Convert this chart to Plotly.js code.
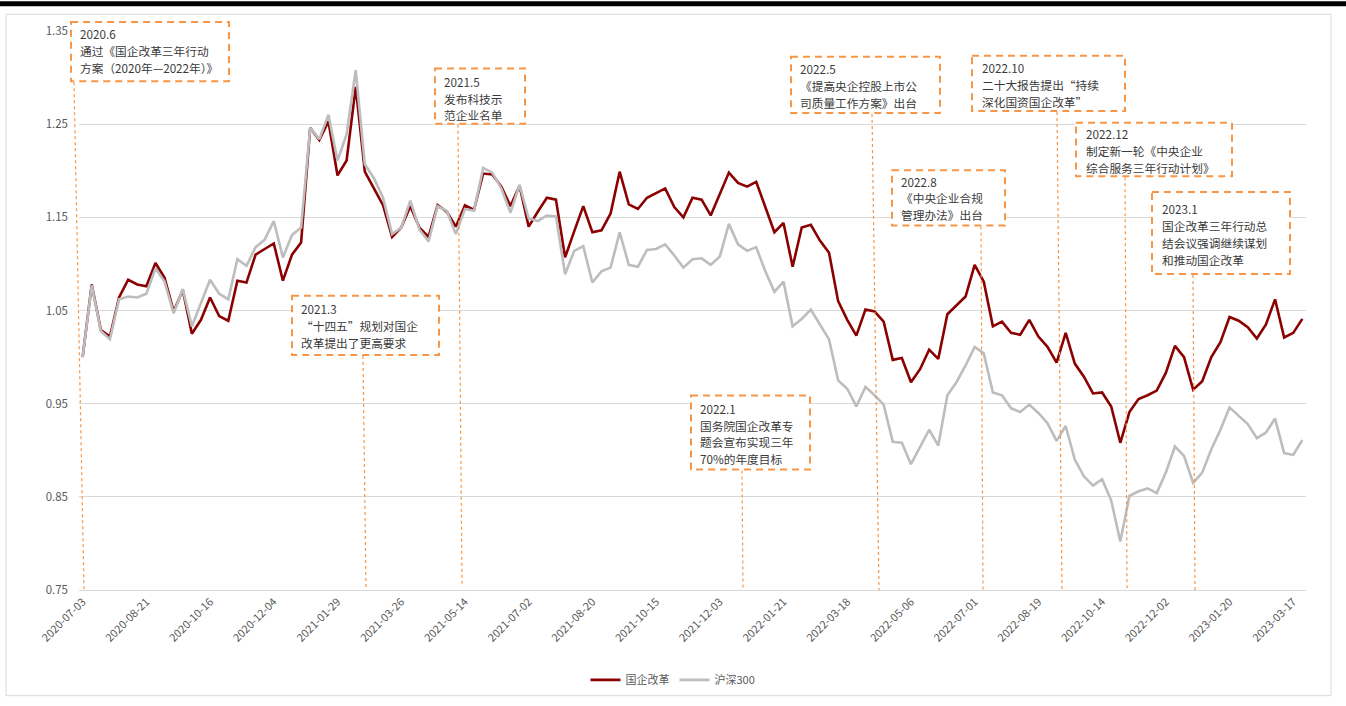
<!DOCTYPE html>
<html><head><meta charset="utf-8">
<script src="https://cdn.plot.ly/plotly-3.0.1.min.js"></script>
<style>html,body{margin:0;padding:0;background:#fff}#chart{width:1346px;height:706px}</style>
</head><body><div id="chart"></div>
<script>
// ---- data ----
const dates = [
'2020-07-03','2020-07-10','2020-07-17','2020-07-24','2020-07-31','2020-08-07','2020-08-14','2020-08-21','2020-08-28','2020-09-04',
'2020-09-11','2020-09-18','2020-09-25','2020-10-09','2020-10-16','2020-10-23','2020-10-30','2020-11-06','2020-11-13','2020-11-20',
'2020-11-27','2020-12-04','2020-12-11','2020-12-18','2020-12-25','2021-01-08','2021-01-15','2021-01-22','2021-01-29','2021-02-05',
'2021-02-19','2021-02-26','2021-03-05','2021-03-12','2021-03-19','2021-03-26','2021-04-02','2021-04-09','2021-04-16','2021-04-23',
'2021-04-30','2021-05-07','2021-05-14','2021-05-21','2021-05-28','2021-06-04','2021-06-11','2021-06-18','2021-06-25','2021-07-02',
'2021-07-09','2021-07-16','2021-07-23','2021-07-30','2021-08-06','2021-08-13','2021-08-20','2021-08-27','2021-09-03','2021-09-10',
'2021-09-17','2021-09-24','2021-10-08','2021-10-15','2021-10-22','2021-10-29','2021-11-05','2021-11-12','2021-11-19','2021-11-26',
'2021-12-03','2021-12-10','2021-12-17','2021-12-24','2021-12-31','2022-01-07','2022-01-14','2022-01-21','2022-01-28','2022-02-11',
'2022-02-18','2022-02-25','2022-03-04','2022-03-11','2022-03-18','2022-03-25','2022-04-01','2022-04-08','2022-04-15','2022-04-22',
'2022-04-29','2022-05-06','2022-05-13','2022-05-20','2022-05-27','2022-06-10','2022-06-17','2022-06-24','2022-07-01','2022-07-08',
'2022-07-15','2022-07-22','2022-07-29','2022-08-05','2022-08-12','2022-08-19','2022-08-26','2022-09-02','2022-09-09','2022-09-16',
'2022-09-23','2022-09-30','2022-10-14','2022-10-21','2022-10-28','2022-11-04','2022-11-11','2022-11-18','2022-11-25','2022-12-02',
'2022-12-09','2022-12-16','2022-12-23','2022-12-30','2023-01-06','2023-01-13','2023-01-20','2023-02-03','2023-02-10','2023-02-17',
'2023-02-24','2023-03-03','2023-03-10','2023-03-17','2023-03-24'];

const soeReform = [
1.000,1.078,1.029,1.022,1.064,1.083,1.078,1.076,1.101,1.085,
1.049,1.072,1.025,1.040,1.064,1.044,1.039,1.082,1.080,1.110,
1.116,1.122,1.082,1.110,1.123,1.246,1.233,1.253,1.195,1.211,
1.290,1.199,1.181,1.163,1.129,1.139,1.162,1.139,1.129,1.163,
1.156,1.140,1.163,1.158,1.197,1.196,1.183,1.162,1.184,1.140,
1.156,1.171,1.169,1.107,1.135,1.162,1.134,1.136,1.154,1.199,
1.164,1.159,1.171,1.176,1.181,1.161,1.150,1.171,1.169,1.152,
1.175,1.198,1.187,1.183,1.188,1.162,1.134,1.144,1.097,1.139,
1.142,1.125,1.112,1.060,1.040,1.023,1.051,1.049,1.038,0.997,
0.999,0.973,0.987,1.008,0.998,1.046,1.055,1.065,1.099,1.081,
1.033,1.038,1.026,1.024,1.040,1.022,1.011,0.994,1.026,0.993,
0.979,0.961,0.962,0.947,0.908,0.941,0.955,0.959,0.964,0.983,
1.012,1.000,0.965,0.974,1.000,1.016,1.043,1.039,1.032,1.020,
1.035,1.062,1.021,1.026,1.041];

const csi300 = [
1.000,1.077,1.028,1.019,1.062,1.065,1.064,1.068,1.095,1.081,
1.047,1.073,1.033,1.058,1.083,1.068,1.062,1.105,1.098,1.118,
1.126,1.146,1.107,1.131,1.139,1.246,1.234,1.260,1.211,1.239,
1.308,1.207,1.192,1.171,1.132,1.139,1.168,1.137,1.124,1.162,
1.157,1.132,1.159,1.157,1.203,1.198,1.181,1.155,1.185,1.149,
1.146,1.152,1.151,1.089,1.114,1.119,1.080,1.092,1.096,1.134,
1.099,1.097,1.115,1.116,1.121,1.109,1.096,1.105,1.106,1.099,
1.108,1.143,1.121,1.114,1.118,1.092,1.070,1.081,1.033,1.041,
1.051,1.035,1.019,0.975,0.966,0.947,0.968,0.959,0.949,0.909,
0.908,0.885,0.903,0.922,0.905,0.959,0.973,0.991,1.011,1.004,
0.962,0.959,0.945,0.941,0.949,0.940,0.929,0.910,0.926,0.890,
0.872,0.862,0.869,0.846,0.802,0.851,0.856,0.859,0.854,0.876,
0.904,0.894,0.865,0.876,0.901,0.922,0.946,0.937,0.928,0.913,
0.919,0.934,0.897,0.895,0.911];

const tickDates = ['2020-07-03','2020-08-21','2020-10-16','2020-12-04','2021-01-29','2021-03-26','2021-05-14',
'2021-07-02','2021-08-20','2021-10-15','2021-12-03','2022-01-21','2022-03-18','2022-05-06','2022-07-01',
'2022-08-19','2022-10-14','2022-12-02','2023-01-20','2023-03-17'];
const yTicks = [0.75,0.85,0.95,1.05,1.15,1.25,1.35];
const seriesNames = ['国企改革','沪深300'];

const eventTexts = [
  ['2020.6','通过《国企改革三年行动','方案（2020年—2022年）》'],
  ['2021.3','“十四五”规划对国企','改革提出了更高要求'],
  ['2021.5','发布科技示','范企业名单'],
  ['2022.1','国务院国企改革专','题会宣布实现三年','70%的年度目标'],
  ['2022.5','《提高央企控股上市公','司质量工作方案》出台'],
  ['2022.8','《中央企业合规','管理办法》出台'],
  ['2022.10','二十大报告提出“持续','深化国资国企改革”'],
  ['2022.12','制定新一轮《中央企业','综合服务三年行动计划》'],
  ['2023.1','国企改革三年行动总','结会议强调继续谋划','和推动国企改革']
];

// ---- layout geometry (pixels) ----
const W = 1346, H = 706;
const PL = 79, PR = 1306, PT = 31, PB = 597;
const fx = x => (x - PL) / (PR - PL);
const fy = y => (PB - y) / (PB - PT);

// box: [left, top, right, bottom], text left, first line center, connector [xTop, yTop, xBottom, yBottom]
const boxes = [
  {b:[71,22,229,82],  tx:80,  ty:34,  c:[74,83,84,597]},
  {b:[292,299,439,359], tx:301, ty:312, c:[363,360,366,597]},
  {b:[435,69,525,125], tx:444, ty:82,  c:[458,126,462,592]},
  {b:[691,400,810,475], tx:700, ty:413, c:[742,476,743,597]},
  {b:[791,57,940,114], tx:800, ty:69,  c:[872,115,879,597]},
  {b:[892,172,1005,228], tx:901, ty:183, c:[981,229,983,597]},
  {b:[972,56,1125,112], tx:982, ty:68, c:[1057,113,1062,597]},
  {b:[1076,124,1232,178], tx:1086, ty:135, c:[1125,179,1127,597]},
  {b:[1152,194,1290,277], tx:1162, ty:211, c:[1193,278,1195,597]}
];
const LINE_GAP = 17;

const orange = '#F79646';
const shapes = [
  {type:'rect', xref:'paper', yref:'paper', x0:fx(0), x1:fx(W), y0:fy(1), y1:fy(6), fillcolor:'#000', line:{width:0}},
  {type:'rect', xref:'paper', yref:'paper', x0:fx(6), x1:fx(1331), y0:fy(14), y1:fy(704), line:{color:'#D9D9D9', width:1}, fillcolor:'rgba(0,0,0,0)'}
];
const annotations = [];
boxes.forEach((bx, i) => {
  shapes.push({type:'line', xref:'paper', yref:'paper', x0:fx(bx.c[0]), y0:fy(bx.c[1]), x1:fx(bx.c[2]), y1:fy(bx.c[3]),
    line:{color:orange, width:1.2, dash:'3px,3px'}});
  shapes.push({type:'rect', xref:'paper', yref:'paper', x0:fx(bx.b[0]), x1:fx(bx.b[2]), y0:fy(bx.b[1]), y1:fy(bx.b[3]),
    fillcolor:'#fff', line:{color:orange, width:2, dash:'7px,5px'}});
  eventTexts[i].forEach((line, k) => {
    annotations.push({xref:'paper', yref:'paper', x:fx(bx.tx - 1), y:fy(bx.ty + k * LINE_GAP), xanchor:'left', yanchor:'middle',
      align:'left', showarrow:false, text:line, borderpad:0,
      font:{family:'Noto Sans CJK SC, sans-serif', size:11.7, color:'#3a3a3a'}});
  });
});

const traces = [
  {type:'scatter', mode:'lines', name:seriesNames[0], x:dates, y:soeReform, line:{color:'#8B0000', width:2.6}},
  {type:'scatter', mode:'lines', name:seriesNames[1], x:dates, y:csi300, line:{color:'#BDBDBD', width:2.6}}
];

const layout = {
  width:W, height:H,
  margin:{l:PL, r:W-PR, t:PT, b:H-PB},
  paper_bgcolor:'#fff', plot_bgcolor:'#fff',
  font:{family:'Noto Sans CJK SC, sans-serif', color:'#595959'},
  showlegend:true,
  legend:{orientation:'h', x:fx(673), xanchor:'center', y:fy(688), yanchor:'middle',
    font:{size:11, color:'#595959'}},
  xaxis:{type:'category', categoryorder:'array', categoryarray:dates, range:[-0.4, dates.length - 0.6],
    tickmode:'array', tickvals:tickDates, ticktext:tickDates, tickangle:-45,
    tickfont:{size:11, color:'#595959'}, showgrid:false, zeroline:false,
    showline:true, linecolor:'#D9D9D9', linewidth:1, ticks:''},
  yaxis:{range:[0.75, 1.35], tickmode:'array', tickvals:yTicks, ticktext:yTicks.map(v => v.toFixed(2)),
    tickfont:{size:11.5, color:'#595959'}, showgrid:true, gridcolor:'#D9D9D9', gridwidth:1,
    zeroline:false, showline:false, ticks:'', ticklabelstandoff:10},
  shapes:shapes,
  annotations:annotations
};

Plotly.newPlot('chart', traces, layout, {displayModeBar:false, staticPlot:true});
</script>
</body></html>
